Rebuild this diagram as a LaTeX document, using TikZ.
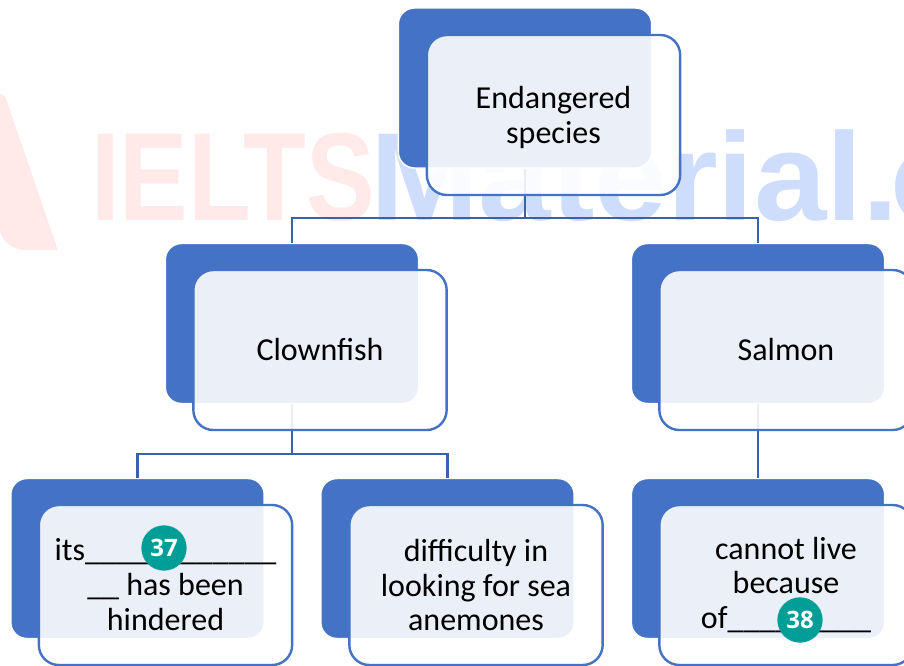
\documentclass[tikz,border=0pt]{standalone}
\usepackage{fontspec}
\setmainfont{Carlito}
\newfontfamily\wmfont{Liberation Sans}
\newfontfamily\badgefont{Open Sans}
\definecolor{accent}{HTML}{4472C4}
\definecolor{linkc}{HTML}{3A62A8}
\definecolor{wmred}{HTML}{FFE9E9}
\definecolor{wmblue}{HTML}{CFDDFD}
\definecolor{badgec}{HTML}{009E96}
\tikzset{
  backbox/.style={draw=white,line width=1.1pt,fill=accent,rounded corners=12pt,minimum width=190pt,minimum height=120pt,inner sep=0pt},
  frontbox/.style={draw=accent,line width=1.8pt,fill=white,fill opacity=.89,text opacity=1,rounded corners=15pt,minimum width=190pt,minimum height=120pt,inner sep=0pt,align=center,text=black,font=\fontsize{24pt}{26.2pt}\selectfont},
  link/.style={draw=linkc,line width=1.6pt},
  badge/.style={circle,fill=badgec,text=white,minimum size=34pt,inner sep=0pt,font=\badgefont\bfseries\fontsize{18pt}{18pt}\selectfont},
  wm/.style={inner sep=0pt,font=\wmfont\bfseries\fontsize{94pt}{94pt}\selectfont}
}
\begin{document}
\begin{tikzpicture}[x=.75pt,y=-.75pt]
\useasboundingbox (0,0) rectangle (904,665);
\clip (0,0) rectangle (904,665);
\fill[white] (0,0) rectangle (904,665);
% watermark
\fill[wmred] (0,94) -- (5,96) -- (58,250) -- (26,250) .. controls (12,250) and (4,242) .. (0,232) -- cycle;
\node[wm,text=wmred,anchor=base west,xscale=.82] (wmA) at (91,220) {IELTS};
\node[wm,text=wmblue,anchor=base west,xscale=1.04] (wmB) at (370,220) {Material.\kern-6pt c};
% back boxes
\node[backbox] (topB) at (525,88) {};
\node[backbox] (clownB) at (292,323.5) {};
\node[backbox] (salmonB) at (758,323.5) {};
\node[backbox] (l1B) at (137.5,558.5) {};
\node[backbox] (l2B) at (447.5,558.5) {};
\node[backbox] (l3B) at (758,558.5) {};
% connectors
\coordinate (busA) at (525,218);
\coordinate (busB) at (292,454);
\draw[link] (topB.south) -- (busA) -| (clownB.north);
\draw[link] (busA) -| (salmonB.north);
\draw[link] (clownB.south) -- (busB) -| (l1B.north);
\draw[link] (busB) -| (l2B.north);
\draw[link] (salmonB.south) -- (l3B.north);
% front boxes
\node[frontbox] (topF) at (553.5,115) {\rule{0pt}{20pt}Endangered\\species};
\node[frontbox] (clownF) at (320,350) {Clownfish};
\node[frontbox] (salmonF) at (786,350) {Salmon};
\node[frontbox] (l1F) at (165.5,585) {its\_\_\_\_\_\_\_\_\_\_\_\_\\\_\_ has been\\hindered};
\node[frontbox] (l2F) at (476,585) {difficulty in\\looking for sea\\anemones};
\node[frontbox] (l3F) at (786,585) {cannot live\\because\\of\_\_\_\_\_\_\_\_\_};
% badges
\node[badge] (b37) at (164,548) {37};
\node[badge] (b38) at (800,620) {38};
\end{tikzpicture}
\end{document}
